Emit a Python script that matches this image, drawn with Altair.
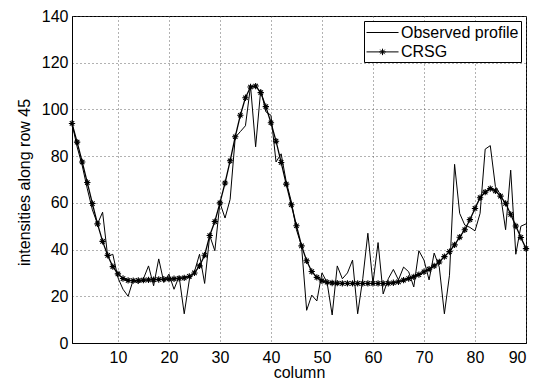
import altair as alt
import pandas as pd

columns = list(range(1, 91))

observed = [
    94, 84, 76, 66, 57, 51, 56, 37, 38, 28,
    23, 20, 27, 25.5, 27.5, 33, 24.5, 36, 26, 29.5,
    23, 28.5, 12.5, 27, 30.5, 38, 25.5, 46, 39.5, 60,
    53.5, 61.5, 88, 90.5, 93, 110, 84, 108.5, 99, 97.5,
    77.5, 81, 69, 60.5, 48.5, 41.5, 14, 20.5, 18, 30,
    26, 12, 33, 27.5, 30, 35.5, 12.5, 27.5, 47, 25.5,
    43, 21, 27.5, 31.5, 27, 32.5, 30.5, 24, 39.5, 35.5,
    27, 38.5, 32.5, 12.5, 29, 76.5, 55.5, 50.5, 49.5, 48,
    55.5, 83, 84.5, 67, 63.5, 48.5, 74, 38, 50, 51,
]

crsg = [
    94, 86, 77.5, 68.7, 59.7, 51, 43.5, 37.5, 32.7, 29.6,
    27.6, 26.8, 26.7, 26.8, 26.9, 27, 27.1, 27.2, 27.3, 27.4,
    27.5, 27.7, 27.9, 28.5, 30, 33, 37.6, 46, 52, 60,
    68.5, 78, 88.3, 97.5, 105, 109.6, 110, 107.2, 101.2, 94.3,
    86.4, 77.3, 68, 59.2, 50.2, 41.6, 35.2, 30.6, 28.1, 26.6,
    26, 25.7, 25.6, 25.5, 25.5, 25.5, 25.5, 25.5, 25.5, 25.5,
    25.5, 25.5, 25.5, 25.8, 26.2, 26.9, 27.6, 28.3, 29.3, 30.5,
    31.6, 33, 34.7, 37, 39.1, 42, 45.3, 48.5, 52.8, 57.6,
    62.2, 64.6, 66.1, 65.1, 62.9, 59.8, 55.1, 50.1, 45.2, 40.4,
]

x_ticks = [10, 20, 30, 40, 50, 60, 70, 80, 90]
y_ticks = [0, 20, 40, 60, 80, 100, 120, 140]
series_names = ["Observed profile", "CRSG"]

df = pd.DataFrame({
    "column": columns + columns,
    "value": observed + crsg,
    "series": [series_names[0]] * len(columns) + [series_names[1]] * len(columns),
})

FONT = "Liberation Sans"
STAR = "M0,-1V1M-1,0H1M-0.7,-0.7L0.7,0.7M-0.7,0.7L0.7,-0.7"
LEG_LINE = "M-1,0H2.56"
LEG_LINE_STAR = ("M-1,0H2.56M0.78,-0.36V0.36M0.42,0H1.14"
                 "M0.53,-0.25L1.03,0.25M0.53,0.25L1.03,-0.25")

x_enc = alt.X(
    "column:Q",
    scale=alt.Scale(domain=[1, 90], nice=False, zero=False),
    axis=alt.Axis(values=x_ticks, title="column", grid=True, ticks=False,
                  labelPadding=6, titleY=34, titleBaseline="alphabetic"),
)
y_enc = alt.Y(
    "value:Q",
    scale=alt.Scale(domain=[0, 140], nice=False),
    axis=alt.Axis(values=y_ticks, title="intensities along row 45", grid=True,
                  ticks=False, labelPadding=4, titleX=-43, titleY=166,
                  titleBaseline="alphabetic", titleAngle=270),
)

base = alt.Chart(df)

obs_line = base.transform_filter(
    alt.datum.series == series_names[0]
).mark_line(color="black", strokeWidth=1).encode(x=x_enc, y=y_enc)

crsg_line = base.transform_filter(
    alt.datum.series == series_names[1]
).mark_line(color="black", strokeWidth=1.3).encode(x=x_enc, y=y_enc)

crsg_pts = base.transform_filter(
    alt.datum.series == series_names[1]
).mark_point(shape=STAR, size=40, filled=False, color="black",
             strokeWidth=1.1, opacity=1).encode(x=x_enc, y=y_enc)

legend_layer = base.transform_filter("false").mark_point(
    filled=False, color="black", strokeWidth=1, opacity=1
).encode(
    x=x_enc, y=y_enc,
    shape=alt.Shape(
        "series:N",
        scale=alt.Scale(domain=series_names, range=[LEG_LINE, LEG_LINE_STAR]),
        legend=alt.Legend(
            title=None, orient="top-right", offset=5, padding=2,
            strokeColor="black", fillColor="white", symbolSize=324,
            symbolStrokeColor="black", symbolStrokeWidth=1,
            symbolFillColor="transparent", labelOffset=16, rowPadding=1.4,
            labelFont=FONT, labelFontSize=16, labelColor="black",
            cornerRadius=0,
        ),
    ),
)

chart = alt.layer(obs_line, crsg_line, crsg_pts, legend_layer).properties(
    width=454, height=327,
    autosize=alt.AutoSizeParams(type="none"),
    padding={"left": 72, "top": 16, "right": 14, "bottom": 38},
    background="white",
).configure_view(
    stroke="black", strokeWidth=1
).configure_axis(
    labelFont=FONT, labelFontSize=16, labelColor="black",
    titleFont=FONT, titleFontSize=16, titleColor="black", titleFontWeight="normal",
    domainColor="black", domainWidth=1,
    gridColor="#555555", gridDash=[1, 3], gridWidth=1, gridOpacity=0.9,
)

chart.save("out.html", embed_options={"renderer": "svg", "actions": False})
